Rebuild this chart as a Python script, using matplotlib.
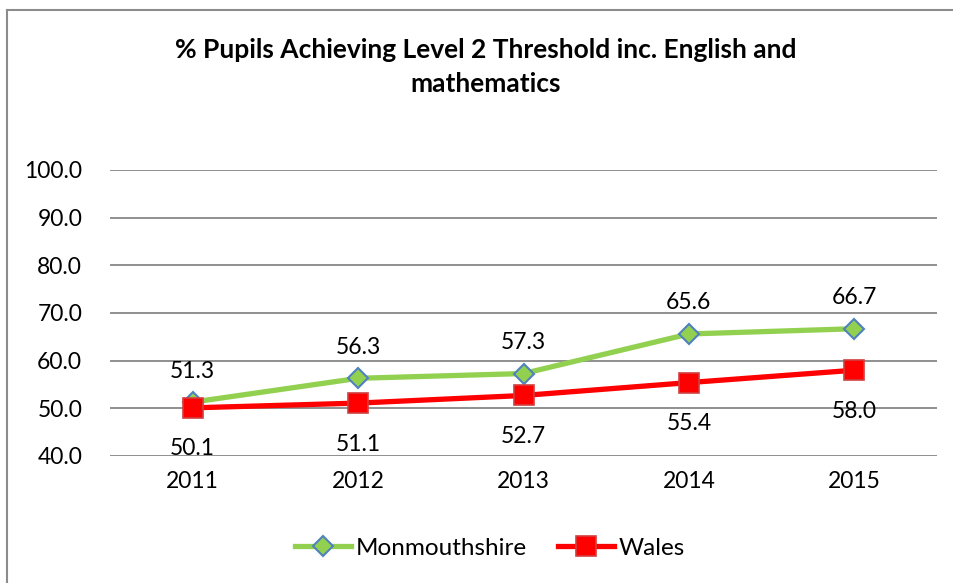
import matplotlib
matplotlib.use("Agg")
import matplotlib.pyplot as plt
from matplotlib.lines import Line2D

years = ["2011", "2012", "2013", "2014", "2015"]
monmouthshire = [51.3, 56.3, 57.3, 65.6, 66.7]
wales = [50.1, 51.1, 52.7, 55.4, 58.0]
yticks = [40.0, 50.0, 60.0, 70.0, 80.0, 90.0, 100.0]
title = "% Pupils Achieving Level 2 Threshold inc. English and\nmathematics"

plt.rcParams['font.family'] = ['Lato', 'DejaVu Sans']

W, H = 954, 583
fig = plt.figure(figsize=(W/100, H/100), dpi=100)
ax = fig.add_axes([110/W, 1-456/H, (937-110)/W, (456-170)/H])

FS = 16.5
x = list(range(len(years)))
ax.plot(x, monmouthshire, color="#92D050", lw=3.8, marker="D", ms=10,
        mfc="#92D050", mec="#4F81BD", mew=1.5, zorder=3, solid_capstyle="round")
ax.plot(x, wales, color="#FF0000", lw=3.8, marker="s", ms=14,
        mfc="#FF0000", mec="#D04040", mew=1.2, zorder=4, solid_capstyle="round")

for xi, v in zip(x, monmouthshire):
    ax.annotate(f"{v:.1f}", (xi, v), xytext=(0, 31), textcoords="offset pixels",
                ha="center", va="center", fontsize=FS, color="black")
for xi, v in zip(x, wales):
    ax.annotate(f"{v:.1f}", (xi, v), xytext=(0, -41), textcoords="offset pixels",
                ha="center", va="center", fontsize=FS, color="black")

ax.set_xlim(-0.5, len(years)-0.5)
ax.set_ylim(40, 100)
ax.set_yticks(yticks)
ax.set_yticklabels([f"{t:.1f}" for t in yticks], fontsize=FS)
ax.set_xticks(x)
ax.set_xticklabels(years, fontsize=FS)
ax.tick_params(axis="both", length=0)
ax.tick_params(axis="y", pad=20)
ax.tick_params(axis="x", pad=11)
ax.yaxis.grid(True, color="#878787", lw=1.3)
ax.set_axisbelow(True)
for s in ax.spines.values():
    s.set_visible(False)

fig.text(486/W, 1-67/H, title, ha="center", va="center", fontsize=19,
         fontweight="bold", linespacing=1.45)

handles = [
    Line2D([], [], color="#92D050", lw=3.8, marker="D", ms=10, mfc="#92D050",
           mec="#4F81BD", mew=1.5),
    Line2D([], [], color="#FF0000", lw=3.8, marker="s", ms=14, mfc="#FF0000",
           mec="#D04040", mew=1.2),
]
fig.legend(handles, ["Monmouthshire", "Wales"], loc="center",
           bbox_to_anchor=(490/W, 1-548/H), ncol=2, frameon=False, fontsize=17.5,
           handlelength=2.3, handletextpad=0.2, columnspacing=1.3)

# chart frame
fig.add_artist(Line2D([7/W, 7/W], [0, 1-9.5/H], color="#8C8C8C", lw=1.5))
fig.add_artist(Line2D([7/W, 1], [1-9.5/H, 1-9.5/H], color="#8C8C8C", lw=1.5))

fig.savefig("out.png", dpi=100)
